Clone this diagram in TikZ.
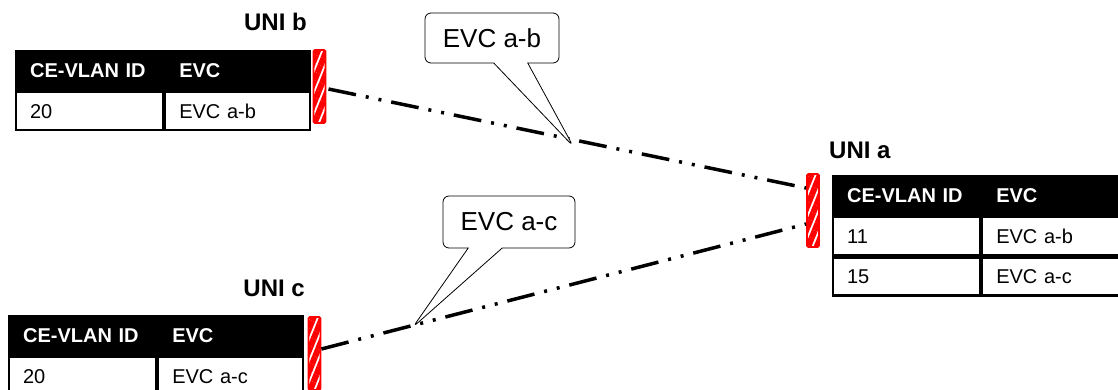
\documentclass[tikz,border=0pt]{standalone}
\usepackage{fontspec}
\setmainfont{Liberation Sans}
\usetikzlibrary{positioning,shapes.callouts,patterns.meta}

\begin{document}
\begin{tikzpicture}[x=1pt,y=-1pt,node distance=0pt,
  hd/.style={fill=black,draw=black,line width=2.2pt,text=white,font=\bfseries\fontsize{20}{24}\selectfont,minimum height=39pt,inner xsep=14pt,inner ysep=0pt,text height=14pt,text depth=0pt,align=left,anchor=north west},
  cell/.style={draw=black,line width=2.2pt,font=\fontsize{20}{24}\selectfont,minimum height=38pt,inner xsep=14pt,inner ysep=0pt,text height=14pt,text depth=0pt,align=left},
  c1/.style={text width=119pt},
  c2/.style={text width=117pt},
  uni/.style={font=\bfseries\fontsize{24}{28}\selectfont,inner sep=0pt},
  port/.style={draw=red,line width=1.8pt,rounded corners=1.5pt,pattern={Lines[angle=68,distance=8pt,line width=6pt]},pattern color=red,minimum width=12pt,minimum height=73pt,inner sep=0pt},
  evc/.style={line width=3.5pt,dash pattern=on 28pt off 10pt on 3pt off 10pt on 3pt off 10pt},
  tag/.style={rectangle callout,draw,fill=white,rounded corners=6pt,line width=0.8pt,font=\fontsize{26}{30}\selectfont,minimum width=134pt,minimum height=50pt,callout pointer width=34pt}]
\useasboundingbox (0,0) rectangle (1118,389);
% UNI b
\node[hd,c1] (hb1) at (15,50) {CE-VLAN ID};
\node[hd,c2,right=of hb1] (hb2) {EVC};
\node[cell,c1,below=of hb1] (bb1) {20};
\node[cell,c2,right=of bb1] (bb2) {EVC a-b};
\node[uni,anchor=base east] (lb) at (307,30) {UNI b};
\node[port] (pb) at (319.5,86.5) {};
% UNI a
\node[hd,c1] (ha1) at (832,175) {CE-VLAN ID};
\node[hd,c2,right=of ha1] (ha2) {EVC};
\node[cell,c1,below=of ha1] (ba1) {11};
\node[cell,c2,right=of ba1] (ba2) {EVC a-b};
\node[cell,c1,below=of ba1] (ca1) {15};
\node[cell,c2,right=of ca1] (ca2) {EVC a-c};
\node[uni,anchor=base west] (la) at (829,158) {UNI a};
\node[port] (pa) at (813,210.5) {};
% UNI c
\node[hd,c1] (hc1) at (8,315) {CE-VLAN ID};
\node[hd,c2,right=of hc1] (hc2) {EVC};
\node[cell,c1,below=of hc1] (bc1) {20};
\node[cell,c2,right=of bc1] (bc2) {EVC a-c};
\node[uni,anchor=base east] (lc) at (305,296) {UNI c};
\node[port] (pc) at (314.5,353.5) {};
% EVCs
\draw[evc] ([yshift=-2.5pt]pb.east) -- ([yshift=22.5pt]pa.west);
\draw[evc] ([yshift=4.5pt]pc.east) -- ([yshift=-13.5pt]pa.west);
\coordinate (tab) at (573,146);
\coordinate (tac) at (413,327);
\node[tag,callout absolute pointer={(tab)}] (cab) at (492,38) {EVC a-b};
\node[tag,callout absolute pointer={(tac)},minimum width=132pt,minimum height=52pt] (cac) at (509,222) {EVC a-c};
\end{tikzpicture}
\end{document}
